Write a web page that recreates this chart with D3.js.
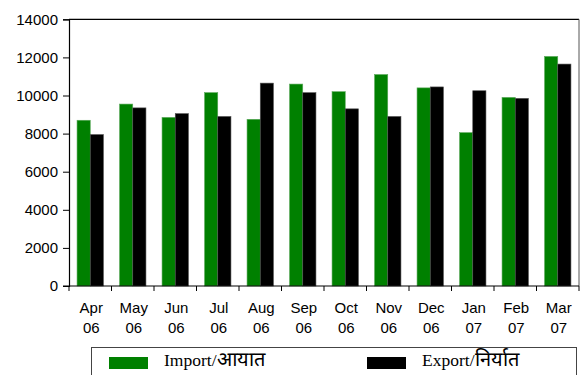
<!DOCTYPE html>
<html>
<head>
<meta charset="utf-8">
<script src="https://cdn.jsdelivr.net/npm/d3@7"></script>
<style>
  html, body { margin: 0; padding: 0; background: #fff; }
  svg { display: block; }
  .tick-label { font-family: "Liberation Sans", Arial, sans-serif; font-size: 15px; fill: #000; }
  .legend-label { font-family: "Liberation Serif", "Times New Roman", serif; font-size: 17.5px; fill: #000; }
  .legend-label .dev { font-size: 20px; }
</style>
</head>
<body>
<svg id="chart" width="580" height="375"></svg>
<script>
// Monthly trade values, April 2006 – March 2007
const months = ["Apr", "May", "Jun", "Jul", "Aug", "Sep", "Oct", "Nov", "Dec", "Jan", "Feb", "Mar"];
const years  = ["06", "06", "06", "06", "06", "06", "06", "06", "06", "07", "07", "07"];
const importValues = [8700, 9550, 8850, 10150, 8750, 10600, 10200, 11100, 10400, 8050, 9900, 12050];
const exportValues = [7950, 9350, 9050, 8900, 10650, 10150, 9300, 8900, 10450, 10250, 9850, 11650];
const yTicks = [0, 2000, 4000, 6000, 8000, 10000, 12000, 14000];
const seriesNames = ["Import/", "Export/"];
const seriesNamesHindi = ["आयात", "निर्यात"];
const seriesColors = ["#008000", "#000000"];

const svg = d3.select("#chart");
const plotLeft = 69, plotRight = 579, plotTop = 19.3, plotBottom = 286;

const x = d3.scaleBand().domain(d3.range(months.length)).range([plotLeft, plotRight]).paddingInner(0).paddingOuter(0);
const inner = d3.scaleBand().domain([0, 1]).range([0, x.bandwidth()]).paddingInner(0).paddingOuter(0.61);
const y = d3.scaleLinear().domain([0, 14000]).range([plotBottom, plotTop]);

// Frame: top and right borders
svg.append("line").attr("x1", plotLeft).attr("x2", plotRight).attr("y1", plotTop).attr("y2", plotTop)
  .attr("stroke", "#000").attr("stroke-width", 1.2);
svg.append("line").attr("x1", plotRight).attr("x2", plotRight).attr("y1", plotTop).attr("y2", plotBottom)
  .attr("stroke", "#555").attr("stroke-width", 1);

// Bars
const rows = months.map((m, i) => ({ i, vals: [importValues[i], exportValues[i]] }));
const groups = svg.append("g").selectAll("g").data(rows).join("g")
  .attr("transform", d => `translate(${x(d.i)},0)`);
groups.selectAll("rect").data(d => d.vals.map((v, k) => ({ v, k }))).join("rect")
  .attr("x", d => inner(d.k))
  .attr("width", inner.bandwidth())
  .attr("y", d => y(d.v))
  .attr("height", d => y(0) - y(d.v))
  .attr("fill", d => seriesColors[d.k])
  .attr("stroke", d => d.k === 0 ? "#5aa85a" : "#555")
  .attr("stroke-width", 0.6);

// Y axis
const yAxis = svg.append("g").attr("transform", `translate(${plotLeft},0)`)
  .call(d3.axisLeft(y).tickValues(yTicks).tickFormat(d3.format("d")).tickSize(6).tickPadding(5));
yAxis.select(".domain").attr("stroke", "#000").attr("stroke-width", 1.2);
yAxis.selectAll(".tick line").attr("stroke", "#000");
yAxis.attr("font-family", null).attr("font-size", null);
yAxis.selectAll(".tick text").attr("class", "tick-label");

// X axis baseline with ticks at band boundaries
svg.append("line").attr("x1", plotLeft - 6).attr("x2", plotRight).attr("y1", plotBottom).attr("y2", plotBottom)
  .attr("stroke", "#000").attr("stroke-width", 1.2);
const boundaries = d3.range(months.length + 1).map(i => i < months.length ? x(i) : x(months.length - 1) + x.bandwidth());
svg.append("g").selectAll("line").data(boundaries).join("line")
  .attr("x1", d => d).attr("x2", d => d).attr("y1", plotBottom).attr("y2", plotBottom + 5)
  .attr("stroke", "#000");

const xl = svg.append("g").selectAll("text").data(months).join("text")
  .attr("class", "tick-label")
  .attr("text-anchor", "middle");
xl.append("tspan").attr("x", (d, i) => x(i) + x.bandwidth() / 2 + 1).attr("y", 313).text(d => d);
xl.append("tspan").attr("x", (d, i) => x(i) + x.bandwidth() / 2 + 1).attr("y", 333).text((d, i) => years[i]);

// Legend
svg.append("rect").attr("x", 91.5).attr("y", 347.5).attr("width", 485).attr("height", 40)
  .attr("fill", "none").attr("stroke", "#444").attr("stroke-width", 1);
const legendX = [109, 367];
const lg = svg.append("g").selectAll("g").data(seriesNames).join("g")
  .attr("transform", (d, i) => `translate(${legendX[i]},0)`);
lg.append("rect").attr("x", 0).attr("y", 357).attr("width", 39).attr("height", 12)
  .attr("fill", (d, i) => seriesColors[i]);
const lt = lg.append("text").attr("class", "legend-label").attr("x", 55).attr("y", 366);
lt.append("tspan").text(d => d);
lt.append("tspan").attr("class", "dev").text((d, i) => seriesNamesHindi[i]);
</script>
</body>
</html>
